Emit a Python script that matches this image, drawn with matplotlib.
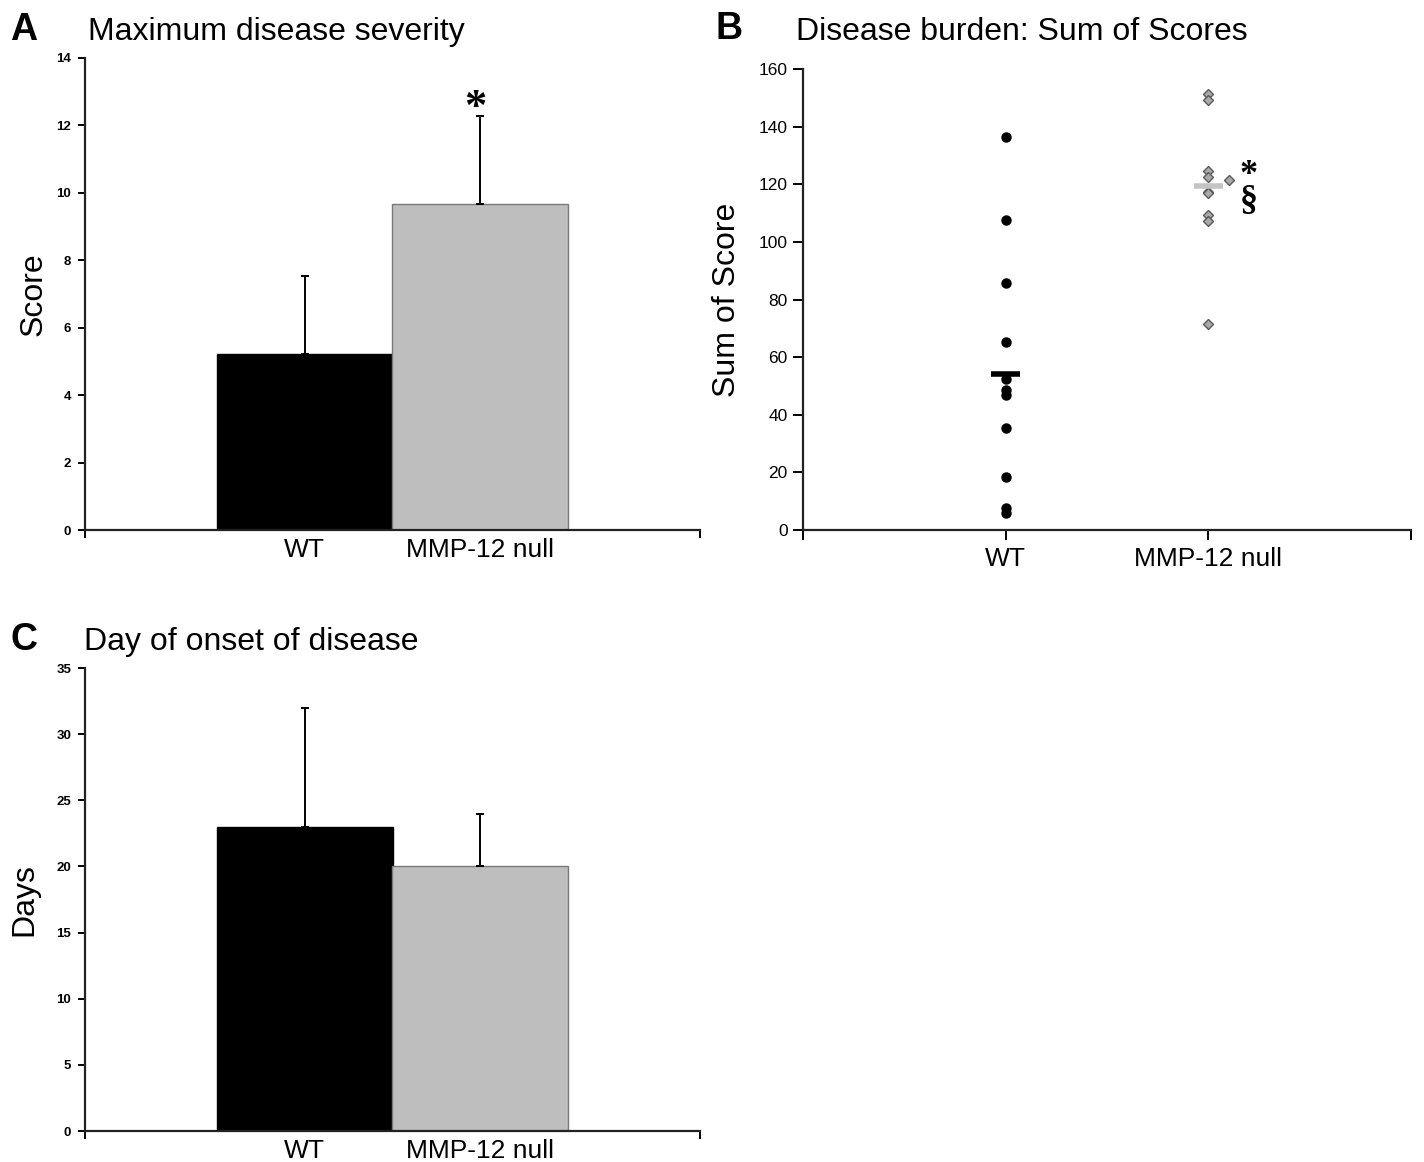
import matplotlib
matplotlib.use("Agg")
import matplotlib.pyplot as plt
import numpy as np

plt.rcParams['font.family'] = ['Liberation Sans', 'DejaVu Sans']

# ---------------- data ----------------
groups = ["WT", "MMP-12 null"]

# Panel A: maximum disease severity (mean, upper error)
severity_mean = [5.23, 9.67]
severity_err = [2.29, 2.60]

# Panel B: sum of scores per animal
wt_scores = [136.4, 107.6, 85.7, 65.4, 52.4, 48.6, 46.9, 35.5, 18.5, 7.6, 6.0]
mmp_scores = [151.3, 149.3, 124.7, 122.6, 117.4, 116.8, 109.3, 107.4, 71.5]
mmp_scores_side = [121.5]
group_means_b = [54.0, 119.4]

# Panel C: day of onset (mean, upper error)
onset_mean = [23.0, 20.0]
onset_err = [9.0, 4.0]

bar_colors = ["#000000", "#bebebe"]
bar_edges = ["#000000", "#7a7a7a"]

W, H = 1424, 1162
fig = plt.figure(figsize=(W / 100, H / 100), dpi=100)
SERIF = ['Liberation Serif', 'DejaVu Serif']


def px_axes(l, r, t, b):
    return fig.add_axes([l / W, 1 - b / H, (r - l) / W, (b - t) / H])


def style(ax):
    for s in ["top", "right"]:
        ax.spines[s].set_visible(False)
    for s in ["left", "bottom"]:
        ax.spines[s].set_linewidth(1.6)
        ax.spines[s].set_color("#222222")


def bar_panel(ax, means, errs, ymax, yticks, ylabel, lab_x):
    style(ax)
    x = np.arange(len(means))
    ax.bar(x, means, width=1.0, color=bar_colors, edgecolor=bar_edges, linewidth=1.0, zorder=2)
    ax.errorbar(x, means, yerr=[np.zeros(len(errs)), errs], fmt='none', ecolor='black',
                elinewidth=1.4, capsize=3, capthick=1.4, zorder=3)
    ax.set_xlim(-1.25, 2.25)
    ax.set_ylim(0, ymax)
    ax.set_yticks(yticks)
    ax.tick_params(axis='y', length=5, width=1.4, pad=5, labelsize=9.5)
    for t in ax.get_yticklabels():
        t.set_fontweight('bold')
    ax.set_xticks([-1.25, 2.25])
    ax.set_xticklabels(["", ""])
    ax.tick_params(axis='x', which='major', length=6, width=1.4)
    ax.set_xticks(x, minor=True)
    ax.set_xticklabels(groups, minor=True)
    ax.tick_params(axis='x', which='minor', length=0, pad=6, labelsize=19)
    ax.set_ylabel(ylabel, fontsize=23)
    ax.yaxis.set_label_coords(lab_x, 0.5)


# Panel A
axA = px_axes(85, 700, 58, 530)
bar_panel(axA, severity_mean, severity_err, 14, np.arange(0, 15, 2), "Score", -0.060)
axA.text(1 - 0.03, severity_mean[1] + severity_err[1] + 0.25, "*", ha='center', va='center',
         fontsize=32, fontweight='bold', family=SERIF)

# Panel C
axC = px_axes(85, 700, 668, 1131)
bar_panel(axC, onset_mean, onset_err, 35, np.arange(0, 36, 5), "Days", -0.074)

# Panel B
axB = px_axes(803, 1411, 69, 530)
style(axB)
axB.plot(np.zeros(len(wt_scores)), wt_scores, 'o', color='black', markersize=6.5, zorder=3)
axB.plot(np.ones(len(mmp_scores)), mmp_scores, 'D', markerfacecolor='#a9a9a9',
         markeredgecolor='#5a5a5a', markeredgewidth=1.0, markersize=5, zorder=3)
axB.plot(np.ones(len(mmp_scores_side)) + 0.1, mmp_scores_side, 'D', markerfacecolor='#a9a9a9',
         markeredgecolor='#5a5a5a', markeredgewidth=1.0, markersize=5, zorder=3)
axB.hlines(group_means_b[0], -0.07, 0.07, colors='black', linewidth=4, zorder=4)
axB.hlines(group_means_b[1], 0.93, 1.07, colors='#c4c4c4', linewidth=4, zorder=4)
axB.set_xlim(-1, 2)
axB.set_ylim(0, 160)
axB.set_yticks(np.arange(0, 161, 20))
axB.tick_params(axis='y', length=7, width=1.4, pad=4, labelsize=12.5)
axB.set_xticks([-1, 0, 1, 2])
axB.set_xticklabels(["", groups[0], groups[1], ""])
axB.tick_params(axis='x', length=7, width=1.4, pad=5, labelsize=19)
axB.set_ylabel("Sum of Score", fontsize=23)
axB.yaxis.set_label_coords(-0.100, 0.5)
axB.text(1.198, 118.5, "*\n§", ha='center', va='center', fontsize=26, fontweight='bold',
         family=SERIF, linespacing=0.72, multialignment='center')

# Panel letters and titles
def ftext(x, y, s, **kw):
    fig.text(x / W, 1 - y / H, s, va='baseline', **kw)

ftext(10, 40, "A", fontsize=27, fontweight='bold')
ftext(88, 40, "Maximum disease severity", fontsize=23)
ftext(716, 39, "B", fontsize=27, fontweight='bold')
ftext(796, 40, "Disease burden: Sum of Scores", fontsize=23)
ftext(10, 650, "C", fontsize=27, fontweight='bold')
ftext(84, 650, "Day of onset of disease", fontsize=23)

fig.savefig("out.png", dpi=100)
